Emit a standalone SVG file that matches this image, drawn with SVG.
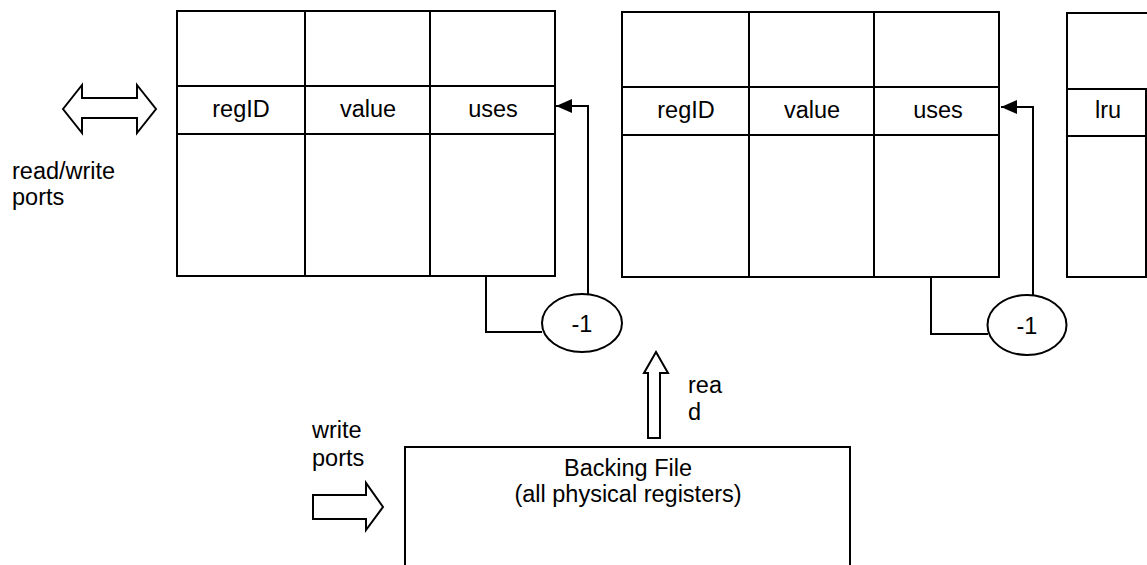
<svg xmlns="http://www.w3.org/2000/svg" width="1147" height="565" viewBox="0 0 1147 565">
  <defs>
    <style>
      .box { fill: none; stroke: #000; stroke-width: 2; }
      .grid { stroke: #000; stroke-width: 2; }
      .wire { fill: none; stroke: #000; stroke-width: 2; }
      .fat { fill: #fff; stroke: #000; stroke-width: 2; stroke-linejoin: miter; }
      .oval { fill: #fff; stroke: #000; stroke-width: 2; }
      text { font-family: "Liberation Sans", Arial, sans-serif; font-size: 23.5px; fill: #000; }
      .c { text-anchor: middle; }
    </style>
    <marker id="head" markerWidth="16" markerHeight="14" refX="16" refY="7" orient="auto" markerUnits="userSpaceOnUse">
      <path d="M0,0 L16,7 L0,14 Z" fill="#000"/>
    </marker>
  </defs>
  <rect width="1147" height="565" fill="#fff"/>

  <!-- read/write port arrow and label -->
  <g id="rw-ports">
    <polygon class="fat" points="63,109 82,85 82,98 137,98 137,85 156,109 137,133 137,118 82,118 82,133"/>
    <text x="12" y="179">read/write</text>
    <text x="12" y="205">ports</text>
  </g>

  <!-- first cache bank -->
  <g id="bank1">
    <rect class="box" x="177" y="11" width="378" height="265"/>
    <line class="grid" x1="177" y1="86" x2="555" y2="86"/>
    <line class="grid" x1="177" y1="134" x2="555" y2="134"/>
    <line class="grid" x1="305" y1="11" x2="305" y2="276"/>
    <line class="grid" x1="430" y1="11" x2="430" y2="276"/>
    <text class="c" x="241" y="117">regID</text>
    <text class="c" x="368" y="117">value</text>
    <text class="c" x="493" y="117">uses</text>
  </g>

  <!-- second cache bank -->
  <g id="bank2">
    <rect class="box" x="622" y="12" width="377" height="265"/>
    <line class="grid" x1="622" y1="87" x2="999" y2="87"/>
    <line class="grid" x1="622" y1="135" x2="999" y2="135"/>
    <line class="grid" x1="749" y1="12" x2="749" y2="277"/>
    <line class="grid" x1="874" y1="12" x2="874" y2="277"/>
    <text class="c" x="686" y="118">regID</text>
    <text class="c" x="812" y="118">value</text>
    <text class="c" x="938" y="118">uses</text>
  </g>

  <!-- third bank, cut off at the right edge -->
  <g id="bank3">
    <polyline class="wire" points="1148,13 1067,13 1067,277 1148,277"/>
    <line class="grid" x1="1067" y1="89" x2="1148" y2="89"/>
    <line class="grid" x1="1067" y1="136" x2="1148" y2="136"/>
    <line class="grid" x1="1146" y1="89" x2="1146" y2="277"/>
    <text class="c" x="1108" y="118">lru</text>
  </g>

  <!-- decrement units -->
  <g id="dec1">
    <ellipse class="oval" cx="582" cy="323" rx="40" ry="29"/>
    <text class="c" x="582" y="332">-1</text>
  </g>
  <g id="dec2">
    <ellipse class="oval" cx="1027" cy="325" rx="39.5" ry="30"/>
    <text class="c" x="1027" y="334">-1</text>
  </g>

  <!-- backing register file -->
  <g id="backing">
    <polyline class="wire" points="405,566 405,447 850,447 850,566"/>
    <text class="c" x="628" y="476">Backing File</text>
    <text class="c" x="628" y="502">(all physical registers)</text>
  </g>

  <!-- write port arrow -->
  <g id="write-ports">
    <text x="312" y="438">write</text>
    <text x="312" y="466">ports</text>
    <polygon class="fat" points="313,495 366,495 366,483 383,507 366,530 366,519 313,519"/>
  </g>

  <!-- read arrow from backing file -->
  <g id="read-port">
    <polygon class="fat" points="656,352 668,373 660,373 660,438 648,438 648,373 644,373"/>
    <text x="688" y="393">rea</text>
    <text x="688" y="420">d</text>
  </g>

  <g id="connectors">
    <polyline class="wire" points="486,276 486,332 542,332"/>
    <polyline class="wire" points="588,294 588,106 556,106" marker-end="url(#head)"/>
    <polyline class="wire" points="931,277 931,334 988,334"/>
    <polyline class="wire" points="1033,295 1033,107 1001,107" marker-end="url(#head)"/>
  </g>
</svg>
